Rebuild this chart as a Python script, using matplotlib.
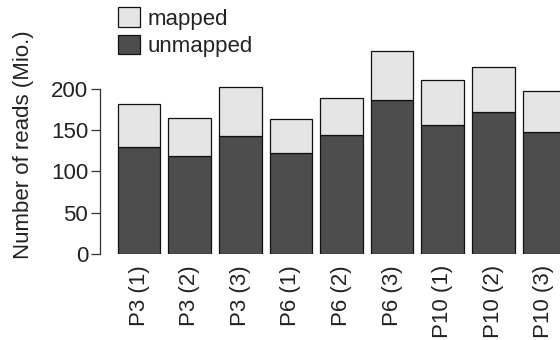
import matplotlib
matplotlib.use("Agg")
import matplotlib.pyplot as plt
import numpy as np

samples = ["P3 (1)", "P3 (2)", "P3 (3)", "P6 (1)", "P6 (2)", "P6 (3)",
           "P10 (1)", "P10 (2)", "P10 (3)"]
unmapped = [130, 118, 143, 122, 144, 186, 156, 172, 147]
mapped = [52, 47, 59, 41, 45, 59, 55, 54, 50]
yticks = [0, 50, 100, 150, 200]

plt.rcParams['font.family'] = ['Liberation Sans', 'DejaVu Sans']
FS = 16
TXT = '#222222'

W, H = 560, 340
fig = plt.figure(figsize=(W / 100, H / 100), dpi=100)
px_per_unit_y = 0.8267
ytop = 265
ax_bottom = H - 254
ax_h = ytop * px_per_unit_y
ax_left = 100
ax_w = 520
ax = fig.add_axes([ax_left / W, ax_bottom / H, ax_w / W, ax_h / H])

x = np.arange(len(samples))
pitch = 50.6
bw = 42.6 / pitch
x0 = -(139 - 100) / pitch
ax.set_xlim(x0, x0 + ax_w / pitch)
ax.set_ylim(0, ytop)

ax.bar(x, unmapped, width=bw, color='#4d4d4d', edgecolor='#111111',
       linewidth=0.9, label='unmapped')
ax.bar(x, mapped, bottom=unmapped, width=bw, color='#e5e5e5',
       edgecolor='#111111', linewidth=0.9, label='mapped')

for s in ['top', 'right', 'bottom']:
    ax.spines[s].set_visible(False)
ax.spines['left'].set_bounds(0, 200)
ax.spines['left'].set_color('#333333')
ax.spines['left'].set_linewidth(0.9)

ax.set_yticks(yticks)
ax.set_yticklabels([str(v) for v in yticks])
ax.tick_params(axis='y', length=6.5, width=0.9, color='#333333',
               labelsize=FS, labelcolor=TXT, pad=2)
ax.set_xticks(x)
ax.set_xticklabels(samples, rotation=90, fontsize=FS, color=TXT, va='top')
ax.tick_params(axis='x', length=0, pad=8)

ax.set_ylabel('Number of reads (Mio.)', fontsize=FS, color=TXT, labelpad=12)

handles, labels = ax.get_legend_handles_labels()
leg = fig.legend(handles[::-1], labels[::-1], loc='upper left',
                 bbox_to_anchor=(114 / W, 1 - 3 / H), frameon=False,
                 fontsize=FS, handlelength=0.95, handleheight=0.95,
                 handletextpad=0.35, labelspacing=0.22, borderaxespad=0,
                 borderpad=0.2)
for t in leg.get_texts():
    t.set_color(TXT)

fig.savefig('out.png', dpi=100)
